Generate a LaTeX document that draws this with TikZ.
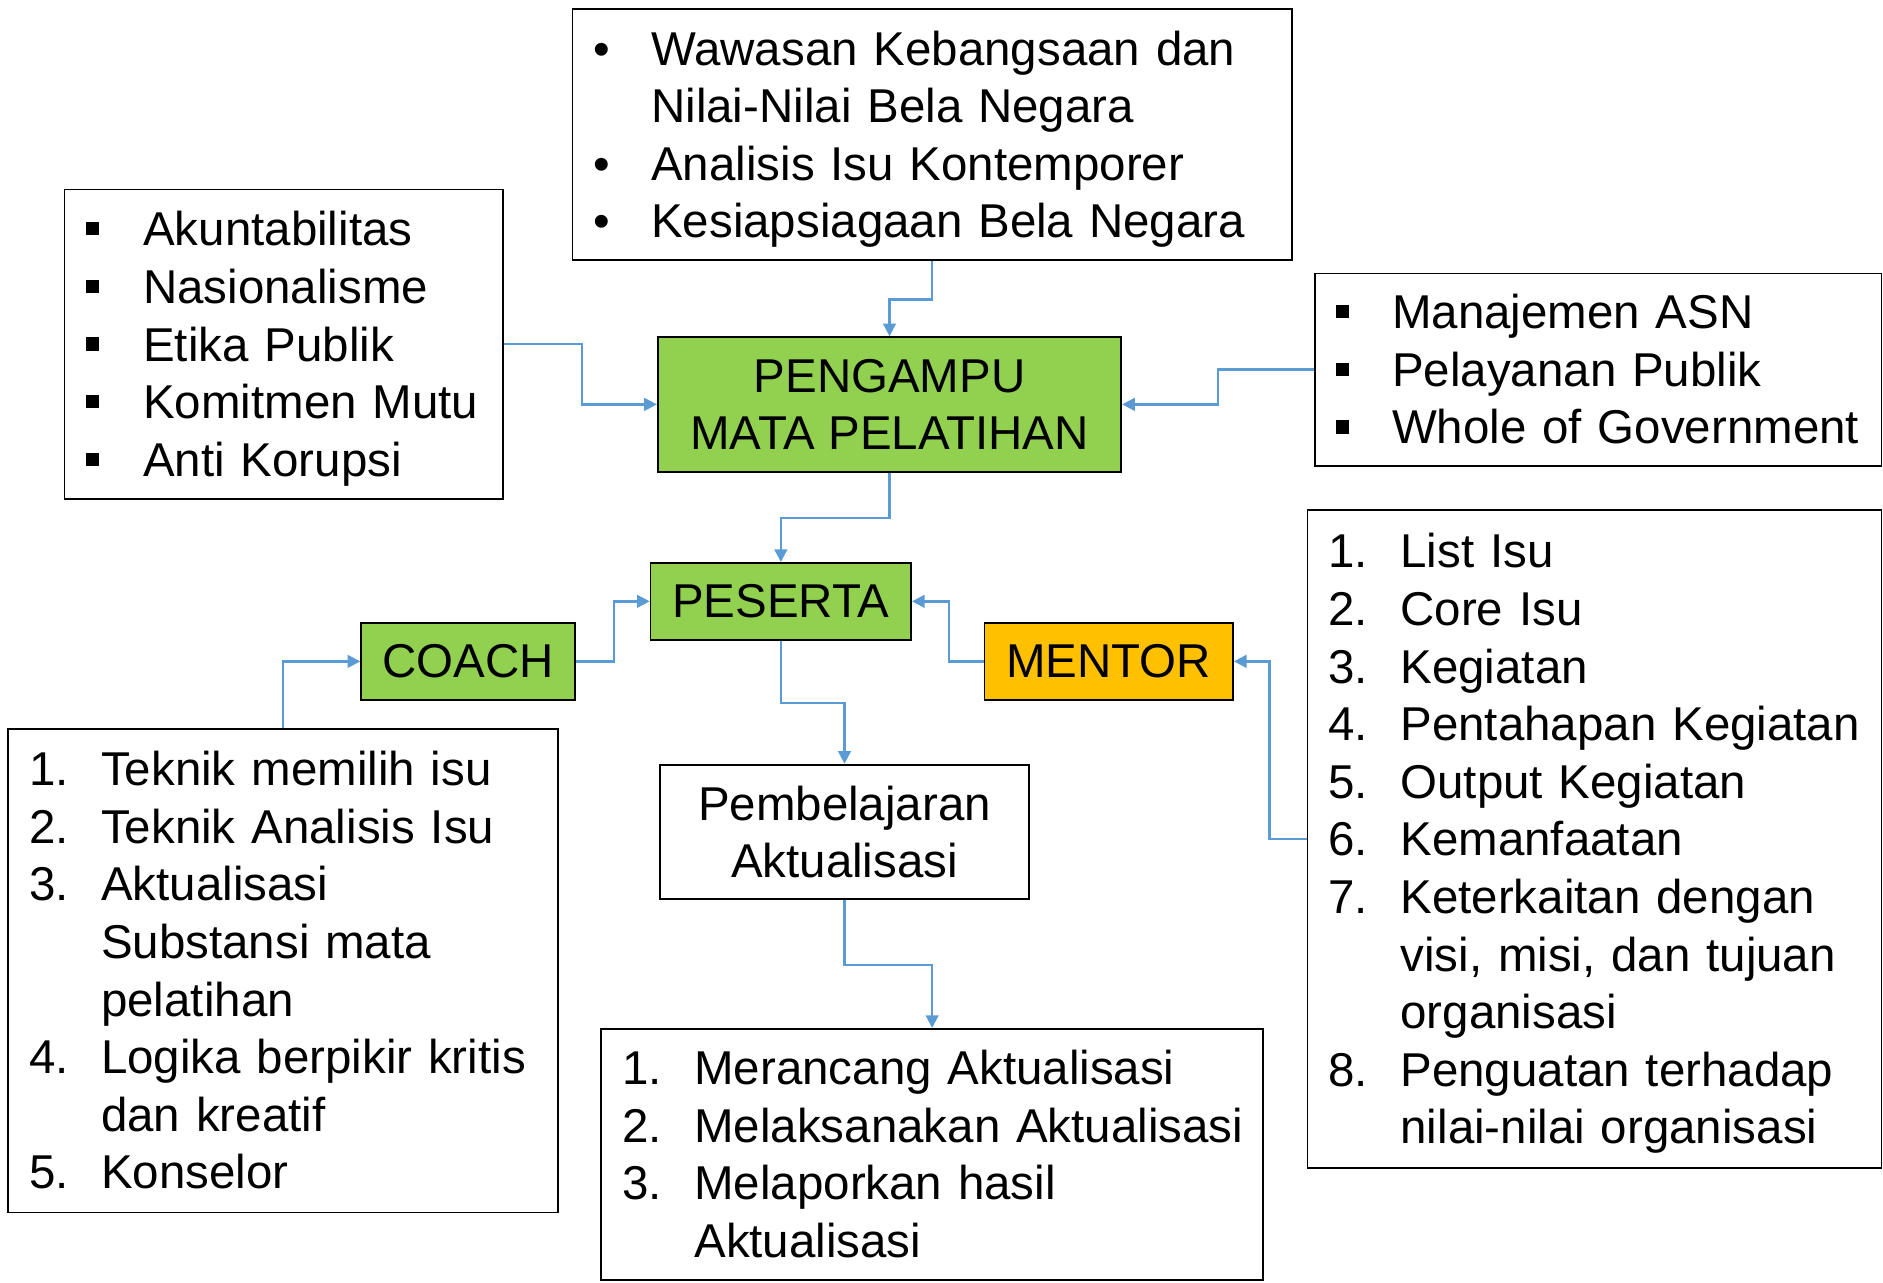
\documentclass[tikz,border=0pt]{standalone}
\usepackage{fontspec}
\setmainfont{Liberation Sans}
\usepackage{array}
\usetikzlibrary{arrows.meta,positioning,calc}
\definecolor{boxgreen}{RGB}{146,208,80}
\definecolor{boxorange}{RGB}{255,192,0}
\definecolor{linkblue}{RGB}{91,155,213}
\setlength{\parindent}{0pt}
\newcommand{\sqbul}{\rule[0.22em]{0.28em}{0.28em}}
\newsavebox{\marklistbox}
\newenvironment{marklist}[1]{\begin{lrbox}{\marklistbox}\begin{tabular}{@{\hspace{10pt}}p{#1}@{}l@{}}}%
    {\end{tabular}\end{lrbox}\raisebox{-2.5pt}[\ht\marklistbox][\dp\marklistbox]{\usebox{\marklistbox}}}

\begin{document}
\begin{tikzpicture}[x=0.02cm,y=-0.02cm,
    box/.style={draw=black,line width=0.85pt,inner sep=0pt,
        font=\fontsize{22.5pt}{27.3pt}\selectfont},
    listbox/.style 2 args={box,anchor=north west,align=left,text width=#1,minimum height=#2},
    rolebox/.style={box,anchor=north west,align=center,fill=#1},
    link/.style={linkblue,line width=1.1pt,-{Triangle[length=6pt,width=6pt]}}]
    \useasboundingbox (0,0) rectangle (1568,1068);

    % Materi boxes
    \node[listbox={11.98cm}{4.18cm}] (wawasan) at (476,7) {\begin{marklist}{27.3pt}
        • & Wawasan Kebangsaan dan\\
          & Nilai-Nilai Bela Negara\\
        • & Analisis Isu Kontemporer\\
        • & Kesiapsiagaan Bela Negara
    \end{marklist}};
    \node[listbox={7.3cm}{5.16cm}] (nilai) at (53,157) {\begin{marklist}{27.3pt}
        \sqbul & Akuntabilitas\\
        \sqbul & Nasionalisme\\
        \sqbul & Etika Publik\\
        \sqbul & Komitmen Mutu\\
        \sqbul & Anti Korupsi
    \end{marklist}};
    \node[listbox={9.44cm}{3.2cm}] (manajemen) at (1094,227) {\begin{marklist}{26.7pt}
        \sqbul & Manajemen ASN\\
        \sqbul & Pelayanan Publik\\
        \sqbul & Whole of Government
    \end{marklist}};

    % Roles
    \node[rolebox=boxgreen,minimum width=7.72cm,minimum height=2.24cm] (pengampu) at (547,280)
        {PENGAMPU\\MATA PELATIHAN};
    \node[rolebox=boxgreen,minimum width=4.34cm,minimum height=1.28cm] (peserta) at (541,468) {PESERTA};
    \node[rolebox=boxgreen,minimum width=3.56cm,minimum height=1.28cm] (coach) at (300,518) {COACH};
    \node[rolebox=boxorange,minimum width=4.14cm,minimum height=1.28cm] (mentor) at (819,518) {MENTOR};
    \node[rolebox=white,minimum width=6.14cm,minimum height=2.24cm] (pembelajaran) at (549,636)
        {Pembelajaran\\Aktualisasi};

    % Task lists
    \node[listbox={9.16cm}{8.06cm}] (coachtask) at (6,606) {\begin{marklist}{34.1pt}
        1. & Teknik memilih isu\\
        2. & Teknik Analisis Isu\\
        3. & Aktualisasi\\
           & Substansi mata\\
           & pelatihan\\
        4. & Logika berpikir kritis\\
           & dan kreatif\\
        5. & Konselor
    \end{marklist}};
    \node[listbox={11.02cm}{4.18cm}] (aktualisasi) at (500,856) {\begin{marklist}{34.1pt}
        1. & Merancang Aktualisasi\\
        2. & Melaksanakan Aktualisasi\\
        3. & Melaporkan hasil\\
           & Aktualisasi
    \end{marklist}};
    \node[listbox={9.56cm}{10.96cm}] (mentortask) at (1088,424) {\begin{marklist}{34.1pt}
        1. & List Isu\\
        2. & Core Isu\\
        3. & Kegiatan\\
        4. & Pentahapan Kegiatan\\
        5. & Output Kegiatan\\
        6. & Kemanfaatan\\
        7. & Keterkaitan dengan\\
           & visi, misi, dan tujuan\\
           & organisasi\\
        8. & Penguatan terhadap\\
           & nilai-nilai organisasi
    \end{marklist}};

    % Connectors
    \draw[link] (wawasan.south) -- ++(0,32) -| (pengampu.north);
    \draw[link] (nilai.east) -- ++(65,0) |- (pengampu.west);
    \draw[link] (manajemen.west) -- ++(-80,0) |- (pengampu.east);
    \draw[link] (pengampu.south) -- ++(0,38) -| (peserta.north);
    \draw[link] (coach.east) -- ++(32,0) |- (peserta.west);
    \draw[link] (mentor.west) -- ++(-29,0) |- (peserta.east);
    \draw[link] (mentortask.west) -- ++(-31,0) |- (mentor.east);
    \draw[link] (coachtask.north) |- (coach.west);
    \draw[link] (peserta.south) -- ++(0,52) -| (pembelajaran.north);
    \draw[link] (pembelajaran.south) -- ++(0,54) -| (aktualisasi.north);
\end{tikzpicture}
\end{document}
